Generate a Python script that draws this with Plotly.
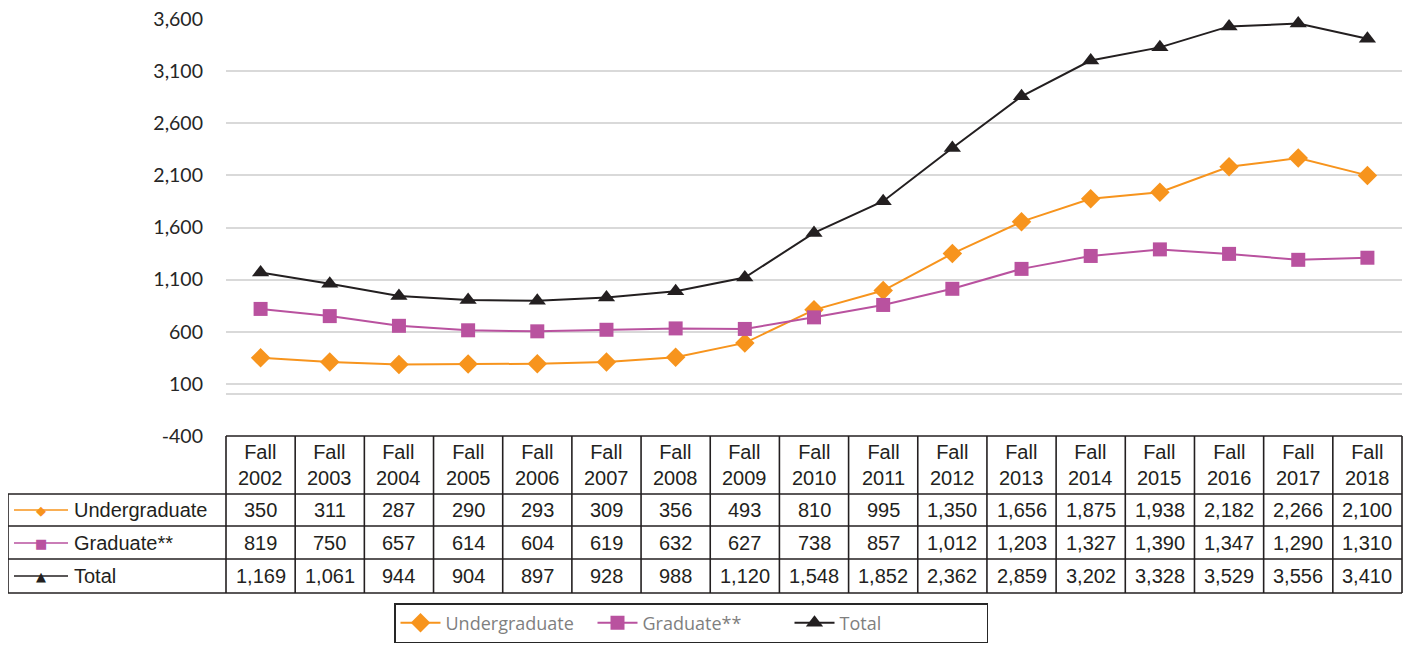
import plotly.graph_objects as go

years = ["2002", "2003", "2004", "2005", "2006", "2007", "2008", "2009", "2010",
         "2011", "2012", "2013", "2014", "2015", "2016", "2017", "2018"]
undergrad = [350, 311, 287, 290, 293, 309, 356, 493, 810, 995, 1350, 1656, 1875,
             1938, 2182, 2266, 2100]
graduate = [819, 750, 657, 614, 604, 619, 632, 627, 738, 857, 1012, 1203, 1327,
            1390, 1347, 1290, 1310]
total = [1169, 1061, 944, 904, 897, 928, 988, 1120, 1548, 1852, 2362, 2859, 3202,
         3328, 3529, 3556, 3410]

series = [
    ("Undergraduate", undergrad, "#F7941D", "diamond", 15, "\u25c6"),
    ("Graduate**", graduate, "#B9529F", "square", 14, "\u25a0"),
    ("Total", total, "#231F20", "triangle-up", 15, "\u25b2"),
]

# page body has an 8px default margin, so work in window pixels minus that
OFF = 8
W, H = 1411 - OFF, 649 - OFF
L, R, T, B = 226 - OFF, 9, 19 - OFF, 649 - 436
PW, PH = W - L - R, H - T - B


def px_x(p):
    return (p - OFF - L) / PW


def px_y(p):
    return (H - B - (p - OFF)) / PH


fig = go.Figure()
xs = list(range(len(years)))
for name, vals, color, sym, size, glyph in series:
    fig.add_trace(go.Scatter(
        x=xs, y=vals, name=name, mode="lines+markers",
        line=dict(color=color, width=2),
        marker=dict(symbol=sym, size=size, color=color),
        cliponaxis=False,
    ))

# data table below the chart
tbl = "#231F20"
row_edges = [494, 526, 559, 593]
shapes = []
ncol = len(years)
# header top
shapes.append(dict(type="line", xref="paper", yref="paper", x0=0, x1=1,
                   y0=px_y(436), y1=px_y(436)))
for py in row_edges:
    shapes.append(dict(type="line", xref="paper", yref="paper", x0=px_x(8), x1=1,
                       y0=px_y(py), y1=px_y(py)))
shapes.append(dict(type="line", xref="paper", yref="paper", x0=px_x(8), x1=px_x(8),
                   y0=px_y(494), y1=px_y(593)))
for k in range(ncol + 1):
    shapes.append(dict(type="line", xref="paper", yref="paper", x0=k / ncol, x1=k / ncol,
                       y0=px_y(436), y1=px_y(593)))
for s in shapes:
    s["line"] = dict(color=tbl, width=1.6)

annotations = []
tfont = dict(family="Liberation Sans, Arial", size=20, color=tbl)
for i, yr in enumerate(years):
    annotations.append(dict(x=i, xref="x", y=px_y(465), yref="paper",
                            text="Fall<br>" + yr, showarrow=False, font=tfont,
                            yanchor="middle"))
row_centers = [510, 543, 576]
for (name, vals, color, sym, size, glyph), pyc in zip(series, row_centers):
    for i, v in enumerate(vals):
        annotations.append(dict(x=i, xref="x", y=px_y(pyc), yref="paper",
                                text=f"{v:,}", showarrow=False, font=tfont,
                                yanchor="middle"))
    annotations.append(dict(x=px_x(72), xref="paper", y=px_y(pyc), yref="paper",
                            text=name, showarrow=False, font=tfont,
                            xanchor="left", yanchor="middle"))
    shapes.append(dict(type="line", xref="paper", yref="paper", x0=px_x(14), x1=px_x(68),
                       y0=px_y(pyc), y1=px_y(pyc), line=dict(color=color, width=1.6)))
    annotations.append(dict(x=px_x(41), xref="paper", y=px_y(pyc), yref="paper",
                            text=glyph, showarrow=False,
                            font=dict(family="DejaVu Sans", size=13, color=color),
                            xanchor="center", yanchor="middle"))

fig.update_layout(
    width=W, height=H,
    margin=dict(l=L, r=R, t=T, b=B, autoexpand=False),
    paper_bgcolor="white", plot_bgcolor="white",
    shapes=shapes, annotations=annotations,
    xaxis=dict(range=[-0.5, ncol - 0.5], showgrid=False, zeroline=False,
               showticklabels=False, showline=False, fixedrange=True),
    yaxis=dict(range=[-400, 3600], tickvals=[-400, 100, 600, 1100, 1600, 2100, 2600, 3100, 3600],
               ticktext=["-400", "100", "600", "1,100", "1,600", "2,100", "2,600", "3,100", "3,600"],
               showgrid=True, gridcolor="#D9D9D9", gridwidth=1.5,
               zeroline=True, zerolinecolor="#D9D9D9", zerolinewidth=1.5,
               showline=False, ticklabelstandoff=22, ticklabeloverflow="allow",
               tickfont=dict(family="Lato", size=19.5, color="#262626")),
    showlegend=True,
    legend=dict(orientation="h", x=px_x(691), xanchor="center", y=px_y(603), yanchor="top",
                bordercolor="#262626", borderwidth=1.5, bgcolor="white",
                font=dict(family="Open Sans", size=18, color="#7F7F7F"),
                entrywidth=142, itemwidth=40),
)

fig.write_html("out.html")
